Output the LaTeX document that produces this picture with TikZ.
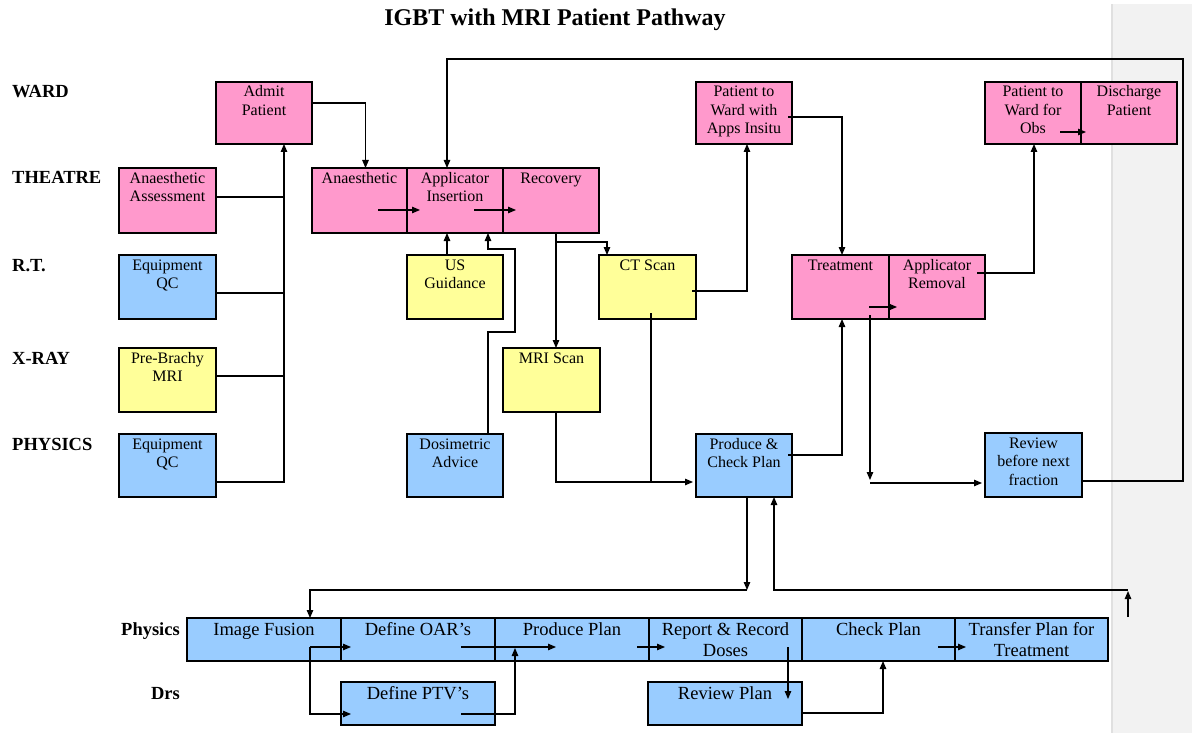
\documentclass[tikz,border=0pt]{standalone}
\usepackage{fontspec}
\setmainfont{Liberation Serif}
\usetikzlibrary{arrows.meta,calc}
\definecolor{pinkbox}{HTML}{FF99CC}
\definecolor{bluebox}{HTML}{99CCFF}
\definecolor{yellowbox}{HTML}{FFFF99}
\definecolor{sidegray}{HTML}{F2F2F2}
\definecolor{sideline}{HTML}{E0E0E0}
% name, x1, y1, x2, y2, style, strut, text
\newcommand\mkbox[8]{%
  \node[bx,#6] (#1) at (#2,#3)
    {\parbox[t][\dimexpr#5pt-#3pt\relax][t]{\dimexpr#4pt-#2pt\relax}{\centering\rule{0pt}{#7pt}#8}};}
\begin{document}
\begin{tikzpicture}[x=1pt,y=-1pt,
  bx/.style={draw=black, line width=1.2pt, inner sep=0pt, outer sep=0pt, anchor=north west,
             font=\fontsize{16}{18.5}\selectfont},
  big/.style={font=\fontsize{18.5}{21}\selectfont},
  lab/.style={font=\bfseries\fontsize{18.5}{21}\selectfont, inner sep=0pt, anchor=base west},
  labr/.style={font=\bfseries\fontsize{18.5}{21}\selectfont, inner sep=0pt, anchor=base east},
  ln/.style={line width=1.1pt},
  ar/.style={ln, -{Triangle[length=8pt,width=6.5pt]}}]
\useasboundingbox (0,0) rectangle (1192,733);
\fill[sidegray] (1112,4) rectangle (1192,733);
\draw[sideline, line width=1.5pt] (1112,4) -- (1112,733);

\node[font=\bfseries\fontsize{24}{27}\selectfont, anchor=base, inner sep=0pt] (title) at (555,26) {IGBT with MRI Patient Pathway};

\node[lab] (lward) at (12,98) {WARD};
\node[lab] (ltheatre) at (12,184) {THEATRE};
\node[lab] (lrt) at (12,271) {R.T.};
\node[lab] (lxray) at (12,364) {X-RAY};
\node[lab] (lphys) at (12,450) {PHYSICS};
\node[labr] (lphys2) at (180,635) {Physics};
\node[labr] (ldrs) at (180,699) {Drs};

% upper boxes
\mkbox{admit}{216}{82}{312}{144}{fill=pinkbox}{15}{Admit\\Patient}
\mkbox{anassess}{119}{168}{216}{233}{fill=pinkbox}{15}{Anaesthetic\\Assessment}
\mkbox{anaes}{312}{168}{407}{233}{fill=pinkbox}{15}{Anaesthetic}
\mkbox{insert}{407}{168}{503}{233}{fill=pinkbox}{15}{Applicator\\Insertion}
\mkbox{recov}{503}{168}{599}{233}{fill=pinkbox}{15}{Recovery}
\mkbox{qcrt}{119}{255}{216}{319}{fill=bluebox}{15}{Equipment\\QC}
\mkbox{prebr}{119}{348}{216}{412}{fill=yellowbox}{15}{Pre-Brachy\\MRI}
\mkbox{qcph}{119}{434}{216}{497}{fill=bluebox}{15}{Equipment\\QC}
\mkbox{usg}{407}{255}{503}{319}{fill=yellowbox}{15}{US\\Guidance}
\mkbox{ct}{599}{255}{696}{319}{fill=yellowbox}{15}{CT Scan}
\mkbox{mri}{503}{348}{600}{412}{fill=yellowbox}{15}{MRI Scan}
\mkbox{dosi}{407}{434}{503}{497}{fill=bluebox}{15}{Dosimetric\\Advice}
\mkbox{pcp}{696}{434}{792}{497}{fill=bluebox}{15}{Produce \&\\Check Plan}
\mkbox{wardapps}{696}{82}{792}{144}{fill=pinkbox}{15}{Patient to\\Ward with\\Apps Insitu}
\mkbox{treat}{792}{255}{889}{319}{fill=pinkbox}{15}{Treatment}
\mkbox{remov}{889}{255}{985}{319}{fill=pinkbox}{15}{Applicator\\Removal}
\mkbox{wardobs}{985}{82}{1081}{144}{fill=pinkbox}{15}{Patient to\\Ward for\\Obs}
\mkbox{disch}{1081}{82}{1177}{144}{fill=pinkbox}{15}{Discharge\\Patient}
\mkbox{review}{985}{433}{1082}{497}{fill=bluebox}{15}{Review\\before next\\fraction}

% lower boxes
\mkbox{fusion}{187}{618}{341}{661}{fill=bluebox,big}{17}{Image Fusion}
\mkbox{oar}{341}{618}{495}{661}{fill=bluebox,big}{17}{Define OAR’s}
\mkbox{pplan}{495}{618}{649}{661}{fill=bluebox,big}{17}{Produce Plan}
\mkbox{report}{649}{618}{802}{661}{fill=bluebox,big}{17}{Report \& Record\\Doses}
\mkbox{check}{802}{618}{955}{661}{fill=bluebox,big}{17}{Check Plan}
\mkbox{transfer}{955}{618}{1108}{661}{fill=bluebox,big}{17}{Transfer Plan for\\Treatment}
\mkbox{ptv}{341}{682}{495}{725}{fill=bluebox,big}{17}{Define PTV’s}
\mkbox{revplan}{648}{682}{802}{725}{fill=bluebox,big}{17}{Review Plan}

% connectors
\draw[ar] (admit.east |- 0,103) -| (anaes.north -| 365.5,0);
\draw[ar] (qcph.east |- 0,482) -| (admit.south -| 284,0);
\draw[ln] (anassess.east |- 0,197) -- (284,197);
\draw[ln] (qcrt.east |- 0,293) -- (284,293);
\draw[ln] (prebr.east |- 0,376) -- (284,376);
\draw[ar] (review.east |- 0,481) -- (1183,481) -- (1183,59) -| (insert.north -| 447,0);
\draw[ar] (378,210) -- (420,210);
\draw[ar] (474,210) -- (516,210);
\draw[ar] (usg.north -| 447,0) -- (insert.south -| 447,0);
\draw[ar] (dosi.north -| 488,0) -- (488,332) -- (515,332) -- (515,249) -- (488,249) -- (insert.south -| 488,0);
\draw[ar] (recov.south -| 556,0) -- (mri.north -| 556,0);
\draw[ar] (556,242) -| (ct.north -| 607,0);
\draw[ar] (692,291) -| (wardapps.south -| 747,0);
\draw[ln] (651,313) -- (651,482);
\draw[ar] (mri.south -| 556,0) |- (693,482);
\draw[ar] (788,455) -| (treat.south -| 842,0);
\draw[ar] (788,117) -| (treat.north -| 842,0);
\draw[ar] (869,307) -- (897,307);
\draw[ar] (870,315) -- (870,480);
\draw[ar] (870,483) -- (982,483);
\draw[ar] (977,273) -| (wardobs.south -| 1034,0);
\draw[ar] (1060,132) -- (1086,132);
\draw[ar] (pcp.south -| 747,0) -- (747,590);
\draw[ar] (747,590) -| (fusion.north -| 310,0);
\coordinate (freeup) at (1128,617);
\draw[ar] (freeup) -- (1128,591);
\draw[ar] (1128,590) -| (pcp.south -| 774,0);
\draw[ar] (310,647) -- (351,647);
\draw[ar] (310,647) |- (351,714);
\draw[ar] (461,647) -- (556,647);
\draw[ar] (461,714) -| (515,648);
\draw[ar] (637,647) -- (665,647);
\draw[ar] (788,647) -- (788,699);
\draw[ar] (801,713) -| (check.south -| 883,0);
\draw[ar] (938,647) -- (966,647);
\end{tikzpicture}
\end{document}
